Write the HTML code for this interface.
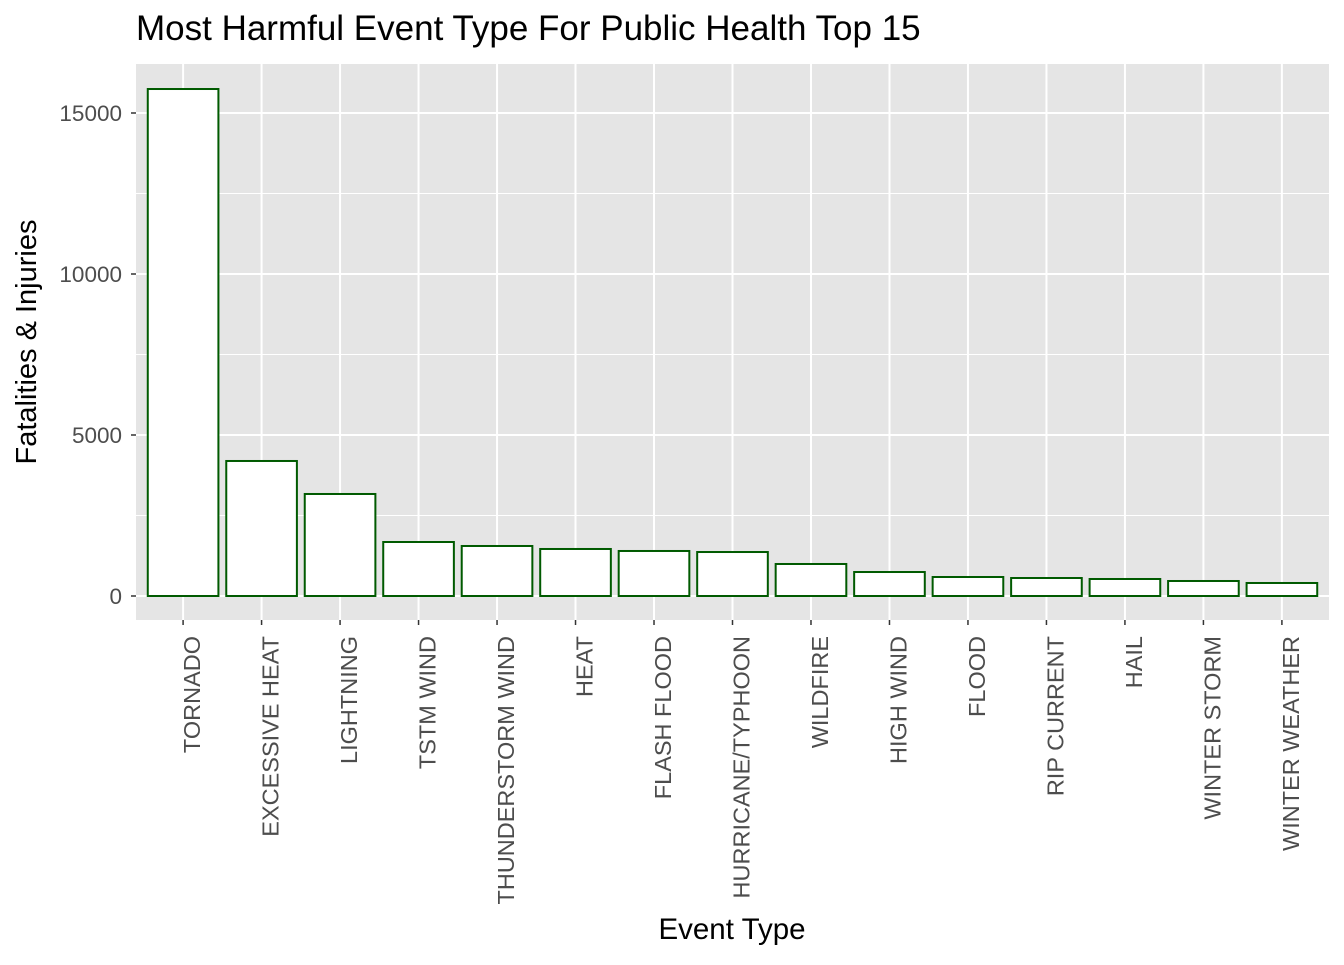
<!DOCTYPE html>
<html><head><meta charset="utf-8"><style>
body{margin:0;background:#fff;}
svg text{font-family:"Liberation Sans",Arial,sans-serif;}
</style></head><body>
<svg id="chart" width="1344" height="960" xmlns="http://www.w3.org/2000/svg">
<text x="136" y="40" font-size="35" fill="#000">Most Harmful Event Type For Public Health Top 15</text>
<rect x="136" y="64" width="1193" height="556" fill="#e5e5e5"/>
<g id="grid"></g><g id="bars"></g><g id="axes"></g>
<text x="732" y="939" font-size="29.5" text-anchor="middle" fill="#000">Event Type</text>
<text transform="translate(36,342) rotate(-90)" font-size="29" text-anchor="middle" fill="#000">Fatalities &amp; Injuries</text>
</svg>
<script>
const categories=["TORNADO","EXCESSIVE HEAT","LIGHTNING","TSTM WIND","THUNDERSTORM WIND","HEAT","FLASH FLOOD","HURRICANE/TYPHOON","WILDFIRE","HIGH WIND","FLOOD","RIP CURRENT","HAIL","WINTER STORM","WINTER WEATHER"];
const values=[15745,4193,3168,1677,1553,1460,1398,1366,994,745,590,559,528,466,404];
const yTicks=[0,5000,10000,15000];
const NS="http://www.w3.org/2000/svg";
const pl=136,pr=1329,pt=64,pb=620;
const step=(pr-pl)/(categories.length+0.2);
const xc=i=>pl+step*(0.6+i);
const y=v=>596-v*0.0322;
function mk(t,a,p){const e=document.createElementNS(NS,t);for(const k in a)e.setAttribute(k,a[k]);p.appendChild(e);return e;}
const grid=document.getElementById('grid'),bars=document.getElementById('bars'),axes=document.getElementById('axes');
for(let i=0;i<yTicks.length-1;i++){const m=(yTicks[i]+yTicks[i+1])/2;
const l=mk('line',{x1:pl,x2:pr,y1:y(m),y2:y(m),stroke:'#fff','stroke-width':1},grid);

}
yTicks.forEach(t=>{
const l=mk('line',{x1:pl,x2:pr,y1:y(t),y2:y(t),stroke:'#fff','stroke-width':2},grid);


const tk=mk('line',{x1:pl-5,x2:pl,y1:y(t),y2:y(t),stroke:'#333','stroke-width':1.5},axes);


const tx=mk('text',{x:pl-14,y:y(t)+8,'font-size':22.5,'text-anchor':'end',fill:'#4d4d4d'},axes);
tx.textContent=t;

});
categories.forEach((c,i)=>{
const l=mk('line',{x1:xc(i),x2:xc(i),y1:pt,y2:pb,stroke:'#fff','stroke-width':2},grid);


const w=step*0.9;
const r=mk('rect',{x:xc(i)-w/2,y:y(values[i]),width:w,height:y(0)-y(values[i]),fill:'#fff',stroke:'#005a00','stroke-width':2},bars);


const tk=mk('line',{x1:xc(i),x2:xc(i),y1:pb,y2:pb+5,stroke:'#333','stroke-width':1.5},axes);


const tx=mk('text',{transform:`translate(${xc(i)+17},${pb+16}) rotate(-90)`,'font-size':23.5,'text-anchor':'end',fill:'#4d4d4d'},axes);
tx.textContent=c;

});
</script>
</body></html>
